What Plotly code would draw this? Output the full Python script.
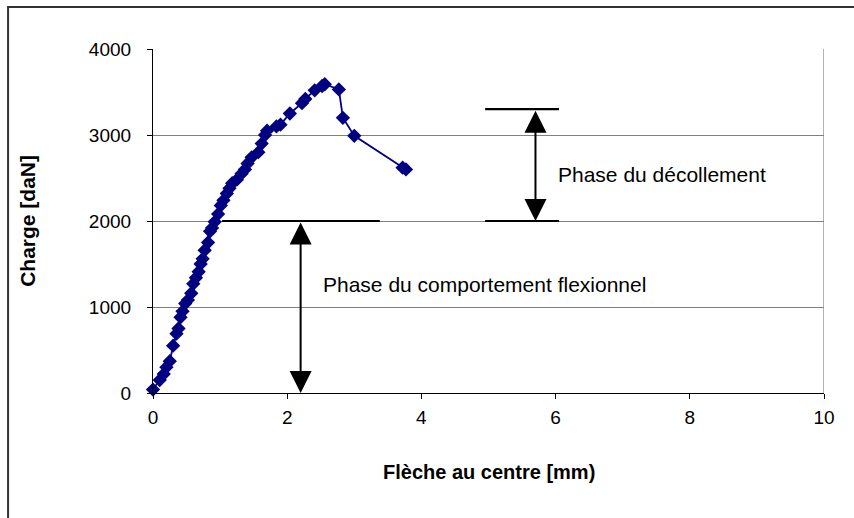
import plotly.graph_objects as go

# Load-deflection test: mid-span deflection (mm) vs applied load (daN)
fleche_mm = [0.00, 0.10, 0.16, 0.20, 0.25, 0.30, 0.35, 0.38, 0.41, 0.44,
             0.48, 0.52, 0.57, 0.60, 0.64, 0.68, 0.71, 0.74, 0.77, 0.82,
             0.85, 0.88, 0.92, 0.97, 1.01, 1.05, 1.10, 1.14, 1.18, 1.25,
             1.32, 1.37, 1.41, 1.47, 1.57, 1.62, 1.67, 1.70, 1.84, 1.90,
             2.04, 2.22, 2.27, 2.41, 2.52, 2.56, 2.77, 2.83, 3.00, 3.72,
             3.77]
charge_daN = [40, 150, 220, 300, 370, 550, 690, 750, 880, 950,
              1040, 1080, 1160, 1270, 1340, 1410, 1500, 1560, 1660, 1750,
              1880, 1920, 1990, 2080, 2180, 2240, 2320, 2380, 2440, 2480,
              2550, 2600, 2670, 2740, 2800, 2900, 3000, 3050, 3100, 3120,
              3250, 3370, 3420, 3520, 3570, 3590, 3530, 3200, 2990, 2620,
              2600]

x_ticks = [0, 2, 4, 6, 8, 10]
y_ticks = [0, 1000, 2000, 3000, 4000]

# Phase limits (load levels) and marker positions for the dimension arrows
seuil_flexion = 2000
seuil_decollement = 3300
flexion_trait = (1.03, 3.38)
flexion_fleche_x = 2.2
decol_trait = (4.95, 6.05)
decol_fleche_x = 5.7

FONT = "Liberation Sans, Arial, sans-serif"
NAVY = "#000080"

fig = go.Figure()
fig.add_trace(go.Scatter(
    x=fleche_mm, y=charge_daN, mode="lines+markers",
    line=dict(color=NAVY, width=1.8),
    marker=dict(symbol="diamond", size=11, color=NAVY),
    cliponaxis=False, showlegend=False,
))

shapes = [
    # right frame of the plot area
    dict(type="line", xref="x", yref="y", x0=10, x1=10, y0=0, y1=4000,
         line=dict(color="#808080", width=1.2)),
    # phase boundaries
    dict(type="line", xref="x", yref="y", x0=flexion_trait[0], x1=flexion_trait[1],
         y0=seuil_flexion, y1=seuil_flexion, line=dict(color="black", width=2.2)),
    dict(type="line", xref="x", yref="y", x0=decol_trait[0], x1=decol_trait[1],
         y0=seuil_flexion, y1=seuil_flexion, line=dict(color="black", width=2.2)),
    dict(type="line", xref="x", yref="y", x0=decol_trait[0], x1=decol_trait[1],
         y0=seuil_decollement, y1=seuil_decollement, line=dict(color="black", width=2.2)),
    # chart area frame
    dict(type="rect", xref="paper", yref="paper", x0=-0.216, x1=1.2, y0=-0.6, y1=1.122,
         line=dict(color="#333333", width=2), fillcolor="rgba(0,0,0,0)", layer="below"),
]

annotations = [
    # double-headed dimension arrows
    dict(x=flexion_fleche_x, y=0, ax=flexion_fleche_x, ay=seuil_flexion,
         xref="x", yref="y", axref="x", ayref="y", text="", showarrow=True,
         arrowhead=2, startarrowhead=2, arrowside="end+start",
         arrowsize=2.2, startarrowsize=2.2, arrowwidth=2, arrowcolor="black"),
    dict(x=decol_fleche_x, y=seuil_flexion, ax=decol_fleche_x, ay=seuil_decollement,
         xref="x", yref="y", axref="x", ayref="y", text="", showarrow=True,
         arrowhead=2, startarrowhead=2, arrowside="end+start",
         arrowsize=2.2, startarrowsize=2.2, arrowwidth=2, arrowcolor="black"),
    dict(x=2.51, y=1260, xref="x", yref="y", text="Phase du comportement flexionnel",
         showarrow=False, xanchor="left", yanchor="middle",
         font=dict(family=FONT, size=21, color="black")),
    dict(x=6.0, y=2540, xref="x", yref="y", text="Phase du décollement",
         showarrow=False, xanchor="left", yanchor="middle",
         font=dict(family=FONT, size=21, color="black")),
    # axis titles
    dict(x=0.5, y=-0.23, xref="paper", yref="paper", text="<b>Flèche au centre [mm)</b>",
         showarrow=False, xanchor="center", yanchor="middle",
         font=dict(family=FONT, size=20, color="black")),
    dict(x=-0.188, y=0.5, xref="paper", yref="paper", text="<b>Charge [daN]</b>",
         showarrow=False, xanchor="center", yanchor="middle", textangle=-90,
         font=dict(family=FONT, size=21, color="black")),
]

fig.update_layout(
    width=854, height=518, autosize=False,
    margin=dict(l=153, r=30, t=49, b=125, pad=0),
    paper_bgcolor="white", plot_bgcolor="white",
    font=dict(family=FONT, size=19, color="black"),
    shapes=shapes, annotations=annotations,
    xaxis=dict(range=[0, 10], tickvals=x_ticks, showgrid=False, zeroline=False,
               showline=True, linecolor="black", linewidth=1.2,
               ticks="outside", ticklen=5, tickcolor="black",
               tickfont=dict(family=FONT, size=19), ticklabelstandoff=2),
    yaxis=dict(range=[0, 4000], tickvals=y_ticks, showgrid=True, gridcolor="#808080",
               gridwidth=1, zeroline=False, showline=True, linecolor="black",
               linewidth=1.2, ticks="outside", ticklen=5, tickcolor="black",
               tickfont=dict(family=FONT, size=19), ticklabelstandoff=12),
)

fig.write_html("out.html")
